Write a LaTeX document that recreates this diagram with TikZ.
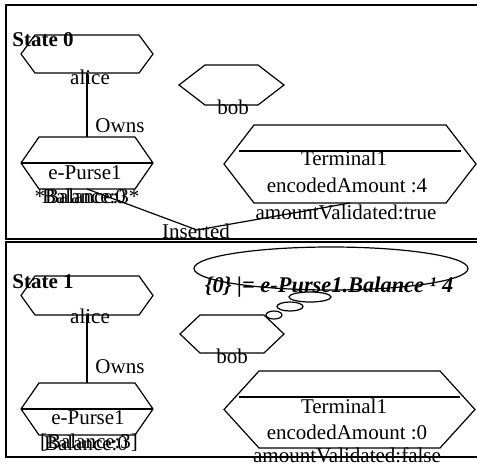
\documentclass[tikz,border=0pt]{standalone}
\usepackage{fontspec}
\setmainfont{Liberation Serif}
\usetikzlibrary{shapes.geometric}
\tikzset{
  hexbox/.style={rectangle, draw=none, inner sep=0pt, outer sep=0pt},
  hexline/.style={draw=black, line width=1.2pt, line join=miter},
  conn/.style={draw=black, line width=1.2pt},
  frame/.style={draw=black, line width=1.3pt},
  lbl/.style={inner sep=0pt, font=\fontsize{21}{24}\selectfont},
  boldlbl/.style={inner sep=0pt, font=\fontsize{21}{24}\selectfont\bfseries},
  thought/.style={inner sep=0pt, font=\fontsize{22.4}{26}\selectfont\bfseries\itshape},
  bubble/.style={ellipse, draw=black, line width=1.2pt, inner sep=0pt, outer sep=0pt},
}
\newcommand\hexnode[6]{%
  \node[hexbox, minimum width=#4pt, minimum height=#5pt] (#1) at (#2,#3) {};
  \draw[hexline] ([xshift=#6pt]#1.north west) -- ([xshift=-#6pt]#1.north east)
    -- (#1.east) -- ([xshift=-#6pt]#1.south east) -- ([xshift=#6pt]#1.south west)
    -- (#1.west) -- cycle;}
\begin{document}
\begin{tikzpicture}[x=1pt,y=-1pt]
\useasboundingbox (0,0) rectangle (477,464);
\clip (0,0) rectangle (477,464);
\fill[white] (0,0) rectangle (477,464);

% ---------- State 0 ----------
\draw[frame] (6,5) rectangle (490,239);
\hexnode{alice0}{87}{54}{132}{38}{14}
\hexnode{ep0}{87}{163}{132}{52}{18}
\draw[conn] (ep0.west) -- (ep0.east);
\hexnode{bob0}{231.5}{85}{105}{40}{26}
\hexnode{term0}{350}{164}{252}{78}{30}
\draw[conn] ([xshift=-111pt,yshift=13pt]term0.center) -- ([xshift=111pt,yshift=13pt]term0.center);

\node[boldlbl] (st0) at (43,40) {State 0};
\node[lbl] (alice0t) at (90,77) {alice};
\draw[conn] (alice0.south) -- (ep0.north);
\node[lbl] (owns0) at (120,126) {Owns};
\node[lbl] (ep0t) at (85,173) {e-Purse1};
\node[lbl] (ep0b1) at (87,196) {*Balance:3*};
\node[lbl] (ep0b2) at (84,196) {Balance:0};
\node[lbl] (bob0t) at (233,107) {bob};
\node[lbl] (term0t) at (344,158) {Terminal1};
\node[lbl] (term0a) at (347,185) {encodedAmount :4};
\node[lbl] (term0b) at (346,212) {amountValidated:true};
\coordinate (ins) at (197,230);
\draw[conn] (ep0.south) -- (ins) -- (term0.south);
\node[lbl] (inst) at (196,231) {Inserted};

% ---------- State 1 ----------
\draw[frame, fill=white] (6,242) rectangle (490,457);
\hexnode{alice1}{87}{295.5}{132}{39}{14}
\hexnode{ep1}{87}{409}{132}{52}{18}
\draw[conn] (ep1.west) -- (ep1.east);
\hexnode{bob1}{232}{334}{104}{38}{20}
\hexnode{term1}{349.5}{409.5}{251}{77}{35}
\draw[conn] ([xshift=-110.5pt,yshift=12.5pt]term1.center) -- ([xshift=110.5pt,yshift=12.5pt]term1.center);

\node[boldlbl] (st1) at (43,282) {State 1};
\node[lbl] (alice1t) at (90,316) {alice};
\draw[conn] (alice1.south) -- (ep1.north);
\node[lbl] (owns1) at (120,367) {Owns};
\node[lbl] (ep1t) at (88,418) {e-Purse1};
\node[lbl] (ep1b1) at (89,443) {[Balance:3]};
\node[lbl] (ep1b2) at (86,443) {Balance:0};
\node[lbl] (bob1t) at (232,356) {bob};
\node[lbl] (term1t) at (344,406) {Terminal1};
\node[lbl] (term1a) at (347,432) {encodedAmount :0};
\node[lbl] (term1b) at (347,455.5) {amountValidated:false};

\node[bubble, minimum width=274pt, minimum height=43pt] (cloud) at (331,268.5) {};
\node[bubble, minimum width=42pt, minimum height=10pt] (b1) at (310,297) {};
\node[bubble, minimum width=26pt, minimum height=9pt] (b2) at (290,306.5) {};
\node[bubble, minimum width=16pt, minimum height=8pt] (b3) at (274,315) {};
\node[thought] (cloudt) at (329,287) {\{0\} |= e-Purse1.Balance ¹ 4};
\end{tikzpicture}
\end{document}
